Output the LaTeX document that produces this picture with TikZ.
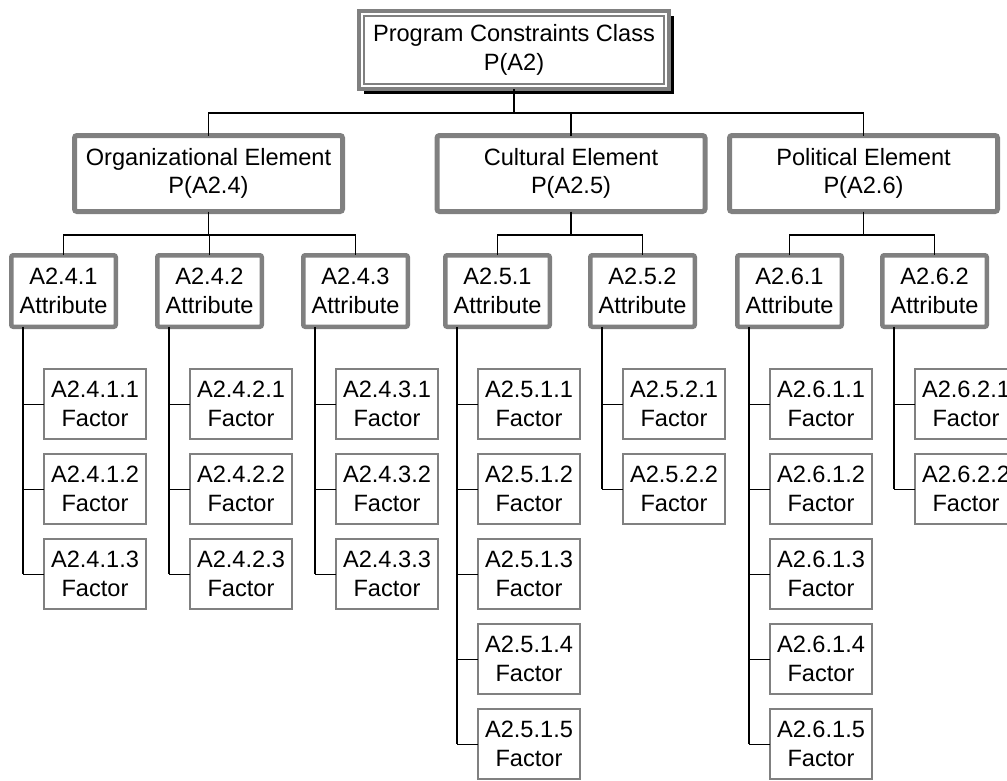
\documentclass[tikz,border=0pt]{standalone}
\usepackage{fontspec}
\setmainfont{Liberation Sans}
\usetikzlibrary{shadows}
\definecolor{boxgray}{RGB}{128,128,128}
\begin{document}
\begin{tikzpicture}[x=1pt,y=-1pt,
  every node/.style={font=\fontsize{23.6}{28.5}\selectfont, align=center,
    inner sep=0pt, outer sep=0pt},
  classbox/.style={draw=boxgray, line width=4pt, fill=white,
    minimum width=310pt, minimum height=78pt,
    drop shadow={shadow xshift=5pt, shadow yshift=-5pt, fill=black, opacity=1}},
  elembox/.style={draw=boxgray, line width=5pt, fill=white, rounded corners=2.5pt,
    minimum width=268pt, minimum height=76pt},
  attrbox/.style={draw=boxgray, line width=4.5pt, fill=white, rounded corners=2pt,
    minimum width=104.5pt, minimum height=71.5pt},
  factorbox/.style={draw=boxgray, line width=2pt, fill=white,
    minimum width=102pt, minimum height=70pt},
  conn/.style={draw=black, line width=1.6pt},
  trunk/.style={draw=black, line width=2pt},
  stub/.style={draw=black, line width=1pt}]

\fill[white] (0,0) rectangle (1007,780);
\useasboundingbox (0,0) rectangle (1007,780);

% class
\node[classbox] (top) at (514,50) {Program Constraints Class\\P(A2)};
\draw[boxgray, line width=2pt] ([shift={(5pt,-5pt)}]top.north west)
  rectangle ([shift={(-5pt,5pt)}]top.south east);

% elements
\node[elembox] (org) at (208.5,173.5) {Organizational Element\\P(A2.4)};
\node[elembox] (cul) at (571,173.5) {Cultural Element\\P(A2.5)};
\node[elembox] (pol) at (863.5,173.5) {Political Element\\P(A2.6)};

\coordinate (bar0) at (0,113);
\draw[conn] (top.south) -- (top.south |- bar0);
\draw[conn] (org.north) -- (org.north |- bar0) -- (pol.north |- bar0) -- (pol.north);
\draw[conn] (cul.north) -- (cul.north |- bar0);

% attributes and their factors
\foreach \i/\cx/\lab/\n in {1/63.5/A2.4.1/3, 2/209.5/A2.4.2/3, 3/355.5/A2.4.3/3,
    4/497.5/A2.5.1/5, 5/642.5/A2.5.2/2, 6/789.5/A2.6.1/5, 7/934.5/A2.6.2/2} {
  \node[attrbox] (a\i) at (\cx,291) {\lab\\Attribute};
  \coordinate (t\i) at ([xshift=12pt]a\i.south west);
  \foreach \k in {1,...,\n} {
    \node[factorbox] (f\i-\k) at (\cx+31.5, 404+85*\k-85) {\lab.\k\\Factor};
    \draw[stub] (t\i |- f\i-\k.west) -- (f\i-\k.west);
  }
  \draw[trunk] (t\i) -- (t\i |- f\i-\n.west);
}

\coordinate (bar1) at (0,235);
\draw[conn] (org.south) -- (org.south |- bar1);
\draw[conn] (a1.north) -- (a1.north |- bar1) -- (a3.north |- bar1) -- (a3.north);
\draw[conn] (a2.north) -- (a2.north |- bar1);

\draw[conn] (cul.south) -- (cul.south |- bar1);
\draw[conn] (a4.north) -- (a4.north |- bar1) -- (a5.north |- bar1) -- (a5.north);

\draw[conn] (pol.south) -- (pol.south |- bar1);
\draw[conn] (a6.north) -- (a6.north |- bar1) -- (a7.north |- bar1) -- (a7.north);

\end{tikzpicture}
\end{document}
